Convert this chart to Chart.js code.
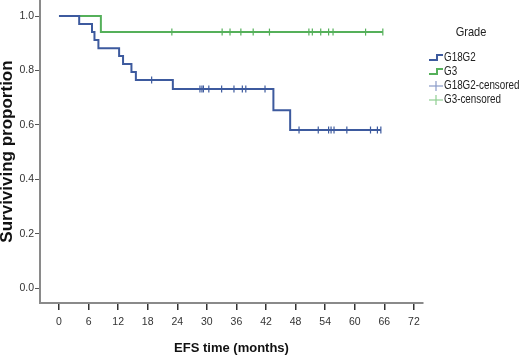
<!DOCTYPE html>
<html>
<head>
    <script src="https://cdn.jsdelivr.net/npm/chart.js@4.4.1/dist/chart.umd.min.js"></script>
    <style>
        body {
            margin: 0;
            padding: 0;
            background: #fff;
        }

        #wrap {
            position: relative;
            width: 519px;
            height: 358px;
        }

        #legend {
            position: absolute;
            left: 428px;
            top: 24px;
            width: 100px;
            font-family: 'Liberation Sans', Arial, sans-serif;
            font-size: 12px;
            color: #222;
        }

        #legend .title {
            font-size: 13px;
            text-align: center;
            width: 86px;
            margin-bottom: 11px;
            transform: scaleX(0.85);
        }

        #legend .row {
            height: 14px;
            line-height: 14px;
            white-space: nowrap;
        }

        #legend svg {
            vertical-align: middle;
        }

        #legend .txt {
            display: inline-block;
            transform: scaleX(0.82);
            transform-origin: left center;
        }
    </style>
</head>
<body>
<div id="wrap">
    <canvas id="myChart"></canvas>
    <div id="legend"></div>
</div>

<script>
    // Kaplan-Meier curves (months, surviving proportion)
    const g12Times = [0, 4.1, 6.7, 7.2, 8.0, 12.2, 13.0, 14.7, 15.6, 23.1, 43.5, 46.9];
    const g12Surv = [1.0, 0.971, 0.941, 0.912, 0.882, 0.853, 0.824, 0.794, 0.765, 0.732, 0.654, 0.581];
    const g12End = 65.3;
    const g12Censored = [18.8, 28.6, 29.0, 29.3, 30.4, 33.0, 35.5, 37.2, 37.9, 41.8,
        48.7, 52.6, 54.7, 55.2, 55.8, 58.4, 63.2, 64.6, 65.3];

    const g3Times = [0, 8.5];
    const g3Surv = [1.0, 0.941];
    const g3End = 65.7;
    const g3Censored = [22.9, 33.1, 34.7, 36.9, 39.4, 42.7, 50.7, 51.4, 53.1, 54.7, 55.6, 62.2, 65.7];

    const xTicks = [0, 6, 12, 18, 24, 30, 36, 42, 48, 54, 60, 66, 72];
    const yTicks = [0.0, 0.2, 0.4, 0.6, 0.8, 1.0];

    const blue = '#3d5a9e';
    const green = '#55b05a';
    const sans = "'Liberation Sans', Arial, sans-serif";

    function stepPoints(times, surv, end) {
        const pts = times.map((t, i) => ({x: t, y: surv[i]}));
        pts.push({x: end, y: surv[surv.length - 1]});
        return pts;
    }

    // survival value at time t (for placing censor ticks on the curve)
    function survAt(times, surv, t) {
        let s = surv[0];
        for (let i = 0; i < times.length; i++) {
            if (times[i] <= t) s = surv[i];
        }
        return s;
    }

    function censorPoints(times, surv, cens) {
        return cens.map(t => ({x: t, y: survAt(times, surv, t)}));
    }

    function curve(label, data, color) {
        return {
            label: label,
            data: data,
            showLine: true,
            stepped: 'before',
            borderColor: color,
            borderWidth: 2,
            pointRadius: 0,
            fill: false
        };
    }

    function censors(label, data, color) {
        return {
            label: label,
            data: data,
            showLine: false,
            pointStyle: 'line',
            rotation: 90,
            pointRadius: 3.5,
            borderColor: color,
            borderWidth: 1.2
        };
    }

    const ctx = document.getElementById('myChart').getContext('2d');
    const myChart = new Chart(ctx, {
        type: 'scatter',
        data: {
            datasets: [
                curve('G18G2', stepPoints(g12Times, g12Surv, g12End), blue),
                curve('G3', stepPoints(g3Times, g3Surv, g3End), green),
                censors('G18G2-censored', censorPoints(g12Times, g12Surv, g12Censored), blue),
                censors('G3-censored', censorPoints(g3Times, g3Surv, g3Censored), green)
            ]
        },
        options: {
            responsive: true,
            maintainAspectRatio: false,
            animation: false,
            layout: {
                autoPadding: false,
                padding: {top: 0, right: 96, left: 0, bottom: 0}
            },
            plugins: {
                legend: {display: false},
                tooltip: {enabled: false}
            },
            scales: {
                x: {
                    type: 'linear',
                    min: -3.85,
                    max: 73.85,
                    afterBuildTicks: scale => {
                        scale.ticks = xTicks.map(v => ({value: v}));
                    },
                    afterFit: scale => {
                        scale.height = 55;
                        scale.paddingLeft = 0;
                        scale.paddingRight = 0;
                    },
                    grid: {
                        drawOnChartArea: false,
                        drawTicks: true,
                        tickLength: 7,
                        color: '#333',
                        lineWidth: 1.5
                    },
                    border: {display: true, color: '#8a8a8a', width: 2},
                    ticks: {
                        padding: 6,
                        color: '#333',
                        font: {family: sans, size: 10.5},
                        callback: v => String(v)
                    },
                    title: {
                        display: true,
                        text: 'EFS time (months)',
                        color: '#111',
                        font: {family: sans, size: 13, weight: 'bold', lineHeight: 1},
                        padding: {top: 0, bottom: 3}
                    }
                },
                y: {
                    min: -0.055,
                    max: 1.059,
                    afterBuildTicks: scale => {
                        scale.ticks = yTicks.map(v => ({value: v}));
                    },
                    afterFit: scale => {
                        scale.width = 40;
                        scale.paddingTop = 0;
                        scale.paddingBottom = 0;
                    },
                    grid: {
                        drawOnChartArea: false,
                        drawTicks: true,
                        tickLength: 5,
                        color: '#555',
                        lineWidth: 1
                    },
                    border: {display: true, color: '#8a8a8a', width: 2},
                    ticks: {
                        padding: 1,
                        color: '#333',
                        font: {family: sans, size: 10.5},
                        callback: v => v.toFixed(1)
                    },
                    title: {
                        display: true,
                        text: 'Surviviving proportion',
                        color: '#111',
                        font: {family: sans, size: 17, weight: 'bold', lineHeight: 1},
                        padding: {top: -1, bottom: 0}
                    }
                }
            }
        }
    });

    // legend built as html, icons in svg
    const legendItems = [
        {text: 'G18G2', color: blue, kind: 'step'},
        {text: 'G3', color: green, kind: 'step'},
        {text: 'G18G2-censored', color: '#8a9ac8', kind: 'cross'},
        {text: 'G3-censored', color: '#8fcf92', kind: 'cross'}
    ];

    function iconSvg(item) {
        if (item.kind === 'step') {
            return `<svg width="16" height="12"><polyline points="1,8 9,8 9,3 15,3" fill="none" stroke="${item.color}" stroke-width="2"/></svg>`;
        }
        return `<svg width="16" height="12"><line x1="1" y1="6" x2="15" y2="6" stroke="${item.color}" stroke-width="1.2"/><line x1="8" y1="1" x2="8" y2="11" stroke="${item.color}" stroke-width="1.2"/></svg>`;
    }

    const legend = document.getElementById('legend');
    let html = '<div class="title">Grade</div>';
    legendItems.forEach(item => {
        html += `<div class="row">${iconSvg(item)}<span class="txt">${item.text}</span></div>`;
    });
    legend.innerHTML = html;
</script>
</body>
</html>
